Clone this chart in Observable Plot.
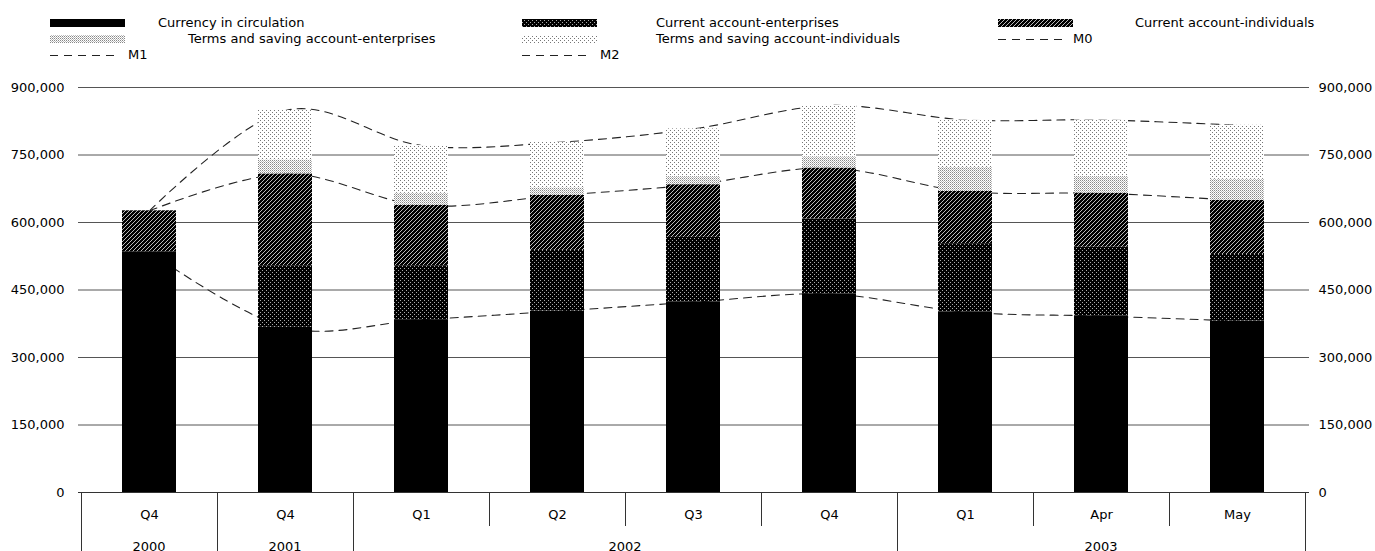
<!DOCTYPE html>
<html><head><meta charset="utf-8">
<script src="https://cdn.jsdelivr.net/npm/d3@7"></script>
<script src="https://cdn.jsdelivr.net/npm/@observablehq/plot@0.6"></script>
<style>
body{margin:0;background:#fff;font-family:"DejaVu Sans",sans-serif;font-size:13px;color:#000;overflow:hidden;}
#legend{position:relative;width:1375px;height:60px;}
.li{position:absolute;white-space:nowrap;line-height:15px;height:15px;}
.sw{position:absolute;}
</style></head><body>
<svg width="0" height="0" style="position:absolute">
<defs>
<pattern id="p-cur" patternUnits="userSpaceOnUse" width="4" height="4"><rect width="4" height="4" fill="#000"/></pattern>
<pattern id="p-caent" patternUnits="userSpaceOnUse" width="4" height="4"><rect width="4" height="4" fill="#000"/><rect x="0" y="0" width="1" height="1" fill="#aaa"/><rect x="2" y="2" width="1" height="1" fill="#aaa"/></pattern>
<pattern id="p-caind" patternUnits="userSpaceOnUse" width="4" height="4"><rect width="4" height="4" fill="#000"/><path d="M-1,1 l2,-2 M0,4 l4,-4 M3,5 l2,-2" stroke="#bbb" stroke-width="1"/></pattern>
<pattern id="p-tsent" patternUnits="userSpaceOnUse" width="2" height="2"><rect width="2" height="2" fill="#fff"/><rect x="0" y="0" width="1" height="1" fill="#888"/><rect x="1" y="1" width="1" height="1" fill="#bbb"/></pattern>
<pattern id="p-tsind" patternUnits="userSpaceOnUse" width="4" height="4"><rect width="4" height="4" fill="#fff"/><rect x="0" y="0" width="1" height="1" fill="#777"/><rect x="2" y="2" width="1" height="1" fill="#777"/></pattern>
</defs>
</svg>
<div id="legend"></div>
<div id="chart"></div>
<script>
// ---- data ----
const periods = ["Q4","Q4","Q1","Q2","Q3","Q4","Q1","Apr","May"];
const years = ["2000","2001","2002","2002","2002","2002","2003","2003","2003"];
const currency = [535000, 367000, 384000, 403000, 423000, 441000, 401000, 392000, 381000];
const caEnt    = [0, 137000, 120000, 135000, 144000, 167000, 152000, 153000, 148000];
const caInd    = [91000, 204000, 134000, 122000, 117000, 113000, 116000, 120000, 120000];
const tsEnt    = [0, 31000, 27000, 17000, 18000, 25000, 53000, 37000, 47000];
const tsInd    = [0, 110000, 106000, 101000, 106000, 114000, 106000, 126000, 120000];
const m0 = [535000, 367000, 384000, 403000, 423000, 441000, 401000, 392000, 381000];
const m1 = [626000, 708000, 638000, 660000, 684000, 721000, 669000, 665000, 649000];
const m2 = [626000, 849000, 771000, 778000, 808000, 860000, 828000, 828000, 816000];
const seriesNames = ["Currency in circulation","Current account-enterprises","Current account-individuals","Terms and saving account-enterprises","Terms and saving account-individuals"];
const seriesValues = [currency, caEnt, caInd, tsEnt, tsInd];
const seriesFills = ["url(#p-cur)","url(#p-caent)","url(#p-caind)","url(#p-tsent)","url(#p-tsind)"];
const lineNames = ["M0","M1","M2"];
const lineValues = [m0, m1, m2];
const yTicks = [0, 150000, 300000, 450000, 600000, 750000, 900000];

// ---- tables ----
const keys = periods.map((p, i) => years[i] + " " + p);
const bars = seriesNames.flatMap((s, j) => keys.map((k, i) => ({key: k, series: s, value: seriesValues[j][i]})));
const lines = lineNames.flatMap((s, j) => keys.map((k, i) => ({key: k, series: s, value: lineValues[j][i]})));

// ---- legend ----
const legend = document.getElementById("legend");
const rowY = [23, 39, 55];
const legendItems = [
  {type: "fill", idx: 0, sx: 50, tx: 158, row: 0},
  {type: "fill", idx: 1, sx: 522, tx: 656, row: 0},
  {type: "fill", idx: 2, sx: 998, tx: 1135, row: 0},
  {type: "fill", idx: 3, sx: 50, tx: 188, row: 1},
  {type: "fill", idx: 4, sx: 522, tx: 656, row: 1},
  {type: "line", idx: 0, sx: 998, tx: 1073, row: 1},
  {type: "line", idx: 1, sx: 50, tx: 128, row: 2},
  {type: "line", idx: 2, sx: 522, tx: 600, row: 2}
];
for (const it of legendItems) {
  const cy = rowY[it.row];
  const sw = document.createElementNS("http://www.w3.org/2000/svg", "svg");
  sw.setAttribute("class", "sw");
  sw.setAttribute("width", 76);
  sw.setAttribute("height", 10);
  sw.style.left = it.sx + "px";
  sw.style.top = (cy - 5) + "px";
  if (it.type === "fill") {
    sw.innerHTML = `<rect x="0" y="1" width="75" height="8" fill="${seriesFills[it.idx]}"/>`;
  } else {
    sw.innerHTML = `<line x1="0" x2="68" y1="5.5" y2="5.5" stroke="#222" stroke-width="1.1" stroke-dasharray="8,6"/>`;
  }
  legend.appendChild(sw);
  const t = document.createElement("div");
  t.className = "li";
  t.style.left = it.tx + "px";
  t.style.top = (cy - 8) + "px";
  t.textContent = it.type === "fill" ? seriesNames[it.idx] : lineNames[it.idx];
  legend.appendChild(t);
}

// ---- chart ----
const fmt = d3.format(",");
const plot = Plot.plot({
  width: 1375, height: 491,
  marginTop: 27, marginBottom: 59, marginLeft: 78, marginRight: 66,
  style: {fontFamily: '"DejaVu Sans", sans-serif', fontSize: "13px", overflow: "visible", background: "white", color: "black"},
  x: {domain: keys, type: "band", paddingInner: 0.6, paddingOuter: 0.3},
  y: {domain: [0, 900000]},
  color: {domain: seriesNames, range: seriesFills},
  marks: [
    Plot.gridY(yTicks, {stroke: "#555", strokeOpacity: 1}),
    Plot.lineY(lines, {x: "key", y: "value", z: "series", curve: "cardinal", stroke: "#222", strokeWidth: 1.1, strokeDasharray: "8,6"}),
    Plot.barY(bars, {x: "key", y: "value", fill: "series", order: seriesNames}),
    Plot.ruleY([0], {stroke: "#333"}),
    Plot.axisY(yTicks, {anchor: "left", tickSize: 0, tickPadding: 14, tickFormat: fmt, label: null}),
    Plot.axisY(yTicks, {anchor: "right", tickSize: 0, tickPadding: 9, tickFormat: fmt, label: null}),
    Plot.axisX({tickSize: 0, tickPadding: 17, tickFormat: k => periods[keys.indexOf(k)], label: null})
  ]
});
document.getElementById("chart").appendChild(plot);

// ---- two-level category axis frame (from the library's x scale) ----
const sx = plot.scale("x");
const sy = plot.scale("y");
const half = (sx.step - sx.bandwidth) / 2;
const y0 = sy.apply(0);
const yEnd = 491;
const svg = d3.select(plot);
const g = svg.append("g").attr("stroke", "#333").attr("fill", "none");
const edge = i => i < keys.length ? sx.apply(keys[i]) - half : sx.apply(keys[keys.length - 1]) + sx.bandwidth + half;
for (let i = 0; i <= keys.length; i++) {
  const full = i === 0 || i === keys.length || years[i] !== years[i - 1];
  const x = Math.round(edge(i)) + 0.5;
  g.append("line").attr("x1", x).attr("x2", x).attr("y1", y0).attr("y2", full ? yEnd : y0 + 34);
}
const tg = svg.append("g").attr("text-anchor", "middle").attr("fill", "black");
let start = 0;
for (let i = 1; i <= keys.length; i++) {
  if (i === keys.length || years[i] !== years[start]) {
    const cx = (edge(start) + edge(i)) / 2;
    tg.append("text").attr("x", cx).attr("y", y0 + 54).attr("dy", "0.35em").text(years[start]);
    start = i;
  }
}
</script>
</body></html>
